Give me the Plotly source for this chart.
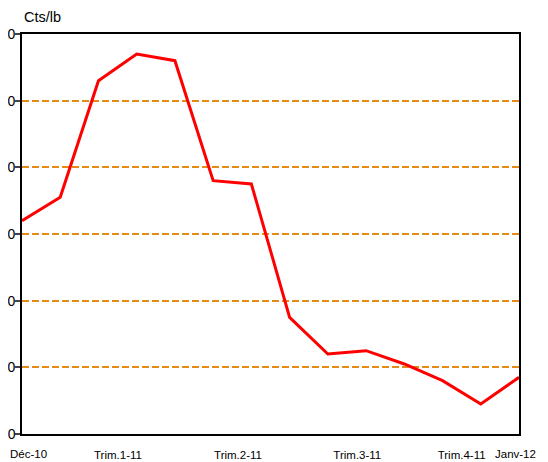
import plotly.graph_objects as go

months = ["Déc-10", "Janv-11", "Févr-11", "Mars-11", "Avr-11", "Mai-11", "Juin-11",
          "Juil-11", "Août-11", "Sept-11", "Oct-11", "Nov-11", "Déc-11", "Janv-12"]
prices = [144, 151, 186, 194, 192, 156, 155, 115, 104, 105, 101, 96, 89, 97]

tick_positions = [2.51, 5.65, 8.77, 11.5]
tick_labels = ["Trim.1-11", "Trim.2-11", "Trim.3-11", "Trim.4-11"]
first_label = "Déc-10"
last_label = "Janv-12"

y_ticks = [80, 100, 120, 140, 160, 180, 200]

x_idx = list(range(len(months)))

fig = go.Figure()
fig.add_trace(go.Scatter(
    x=x_idx, y=prices, mode="lines",
    line=dict(color="#FF0000", width=3),
    text=months, hoverinfo="text+y",
))

annotations = [
    dict(text="Cts/lb", xref="paper", yref="paper", x=0, y=1,
         xanchor="left", yanchor="middle", yshift=17, showarrow=False,
         font=dict(size=14.5)),
    dict(text=first_label, xref="x", yref="paper", x=x_idx[0], y=0,
         xanchor="left", yanchor="middle", yshift=-20, xshift=-14, showarrow=False,
         font=dict(size=11.5)),
    dict(text=last_label, xref="x", yref="paper", x=x_idx[-1], y=0,
         xanchor="right", yanchor="middle", yshift=-20, xshift=19, showarrow=False,
         font=dict(size=11.5)),
]
for v in y_ticks:
    annotations.append(dict(text=str(v), xref="paper", yref="y", x=0, y=v,
                            xanchor="right", yanchor="middle", xshift=-4,
                            showarrow=False, font=dict(size=14)))

fig.update_layout(
    width=548, height=462,
    margin=dict(l=14, r=37, t=26, b=36, autoexpand=False),
    paper_bgcolor="white", plot_bgcolor="white",
    font=dict(family="Liberation Sans, Arial, sans-serif", color="black"),
    showlegend=False,
    annotations=annotations,
    xaxis=dict(range=[0, 13], tickvals=tick_positions, ticktext=tick_labels,
               automargin=False,
               showgrid=False, zeroline=False, showline=True, linecolor="black",
               linewidth=2, mirror=True, ticks="", ticklabelstandoff=9,
               tickfont=dict(size=11.5)),
    yaxis=dict(range=[80, 200], tickvals=y_ticks, showgrid=True, automargin=False,
               gridcolor="#E38B12", griddash="7px,3px", gridwidth=1.5,
               zeroline=False, showline=True, linecolor="black", linewidth=2,
               mirror=True, ticks="outside", ticklen=5, tickcolor="#444",
               tickwidth=2, showticklabels=False),
)

fig.write_html("out.html")
